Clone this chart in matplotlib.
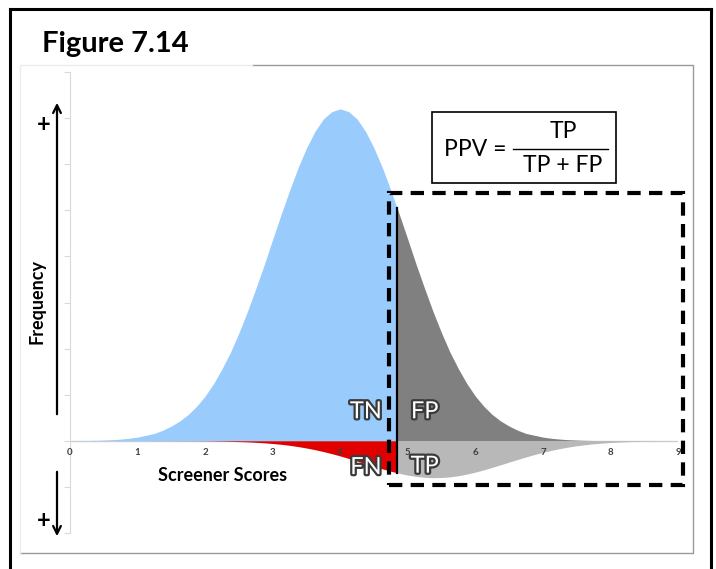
import numpy as np
import matplotlib.pyplot as plt
from matplotlib.patches import Rectangle, FancyArrowPatch
from matplotlib.lines import Line2D
import matplotlib.patheffects as pe

plt.rcParams['font.family'] = ['Lato', 'DejaVu Sans']

# ======================================================
# Data
# ======================================================

# screener scores sampled every 1/8 point, 0 .. 9
scores = np.linspace(0, 9, 73)

# people without the condition (drawn above the axis)
negatives = [
    0.002, 0.004, 0.006, 0.010, 0.016, 0.024, 0.037, 0.055,
    0.08, 0.12, 0.16, 0.23, 0.32, 0.43, 0.57, 0.75,
    0.97, 1.24, 1.56, 1.92, 2.34, 2.80, 3.30, 3.82,
    4.37, 4.91, 5.43, 5.92, 6.35, 6.71, 6.98, 7.14,
    7.20,
    7.14, 6.98, 6.71, 6.35, 5.92, 5.43, 4.91, 4.37,
    3.82, 3.30, 2.80, 2.34, 1.92, 1.56, 1.24, 0.97,
    0.75, 0.57, 0.43, 0.32, 0.23, 0.16, 0.12, 0.08,
    0.055, 0.037, 0.024, 0.016, 0.010, 0.006, 0.004, 0.002,
    0.001, 0.0, 0.0, 0.0, 0.0, 0.0, 0.0, 0.0,
]

# people with the condition (drawn below the axis)
positives = [
    0.0, 0.0, 0.0, 0.0, 0.0, 0.0, 0.0, 0.0,
    0.0, 0.0, 0.001, 0.001, 0.001, 0.002, 0.002, 0.003,
    0.004, 0.006, 0.009, 0.013, 0.018, 0.024, 0.033, 0.044,
    0.059, 0.076, 0.098, 0.125, 0.156, 0.192, 0.233, 0.279,
    0.329, 0.383, 0.439, 0.497, 0.554, 0.609, 0.660, 0.706,
    0.744, 0.773, 0.792, 0.800, 0.796, 0.782, 0.757, 0.722,
    0.679, 0.630, 0.576, 0.520, 0.462, 0.405, 0.350, 0.298,
    0.251, 0.208, 0.169, 0.136, 0.108, 0.085, 0.065, 0.050,
    0.037, 0.028, 0.020, 0.014, 0.010, 0.007, 0.005, 0.003,
    0.002,
]

cutoff = 4.84

x_ticks = list(range(10))

# ======================================================
# Figure
# ======================================================

W, H = 716, 569
fig = plt.figure(figsize=(W/100, H/100), dpi=100)


def fx(px):
    return px/W


def fy(py):
    return 1 - py/H


ax = fig.add_axes([fx(70), fy(533), 608/W, 461/H])
ax.set_xlim(0, 9)
ax.set_ylim(-2, 8)
ax.set_axisbelow(False)

xs = np.asarray(scores)
up = np.array(negatives)
low = -np.array(positives)

left_clip = Rectangle((-1, -5), cutoff+1, 20, transform=ax.transData)
right_clip = Rectangle((cutoff, -5), 10, 20, transform=ax.transData)

ax.axhline(0, color='#d0d0d0', lw=1, zorder=0)

tn = ax.fill_between(xs, 0, up, color='#99cbfd', lw=0, zorder=1)
fp = ax.fill_between(xs, 0, up, color='#808080', lw=0, zorder=1)
fn = ax.fill_between(xs, 0, low, color='#e00000', lw=0, zorder=1)
tp = ax.fill_between(xs, 0, low, color='#b8b8b8', lw=0, zorder=1)
tn.set_clip_path(left_clip)
fn.set_clip_path(left_clip)
fp.set_clip_path(right_clip)
tp.set_clip_path(right_clip)

ax.plot([cutoff, cutoff],
        [np.interp(cutoff, xs, low), np.interp(cutoff, xs, up)],
        color='black', lw=1.6, zorder=3)

# dashed box around everyone who screened positive
ax.add_patch(Rectangle((cutoff-0.12, -0.95), 9.08-(cutoff-0.12), 6.32,
                       fill=False, ec='black', lw=3,
                       linestyle=(0, (3.2, 2)), clip_on=False, zorder=4))

# axes styling
for side in ['top', 'right', 'bottom']:
    ax.spines[side].set_visible(False)
ax.spines['left'].set_color('#d9d9d9')
ax.spines['bottom'].set_position(('data', 0))
ax.set_yticks(range(-2, 9))
ax.set_yticklabels([])
ax.tick_params(axis='y', direction='out', length=4, color='#d9d9d9')
ax.set_xticks(x_ticks)
ax.set_xticklabels([str(t) for t in x_ticks], fontsize=7,
                   fontweight='bold', color='#404040')
ax.tick_params(axis='x', length=0, pad=5)
ax.patch.set_alpha(0)

# cell labels
outline = [pe.withStroke(linewidth=3.2, foreground='#3a3a3a')]
for txt, x, y in [('TN', 4.38, 0.63), ('FP', 5.25, 0.63),
                  ('FN', 4.38, -0.58), ('TP', 5.25, -0.55)]:
    ax.text(x, y, txt, fontsize=17, color='white', ha='center',
            va='center', path_effects=outline, zorder=5)

ax.text(2.26, -0.76, 'Screener Scores', fontsize=13,
        fontweight='bold', ha='center', va='center')

# ======================================================
# Frames, arrows, text around the plot
# ======================================================

fig.add_artist(Line2D([fx(10), fx(711)], [fy(9), fy(9)],
                      color='black', lw=2.2))
fig.add_artist(Line2D([fx(10), fx(10)], [fy(9), fy(580)],
                      color='black', lw=2.2))
fig.add_artist(Line2D([fx(711), fx(711)], [fy(9), fy(580)],
                      color='black', lw=2.2))

fig.add_artist(Line2D([fx(252), fx(693), fx(693), fx(20)],
                      [fy(65), fy(65), fy(553), fy(553)],
                      color='#9a9a9a', lw=1))
fig.add_artist(Line2D([fx(20), fx(20), fx(252)],
                      [fy(553), fy(65), fy(65)],
                      color='#ececec', lw=1))

fig.text(fx(42), fy(44), 'Figure 7.14', fontsize=21, fontweight='bold',
         ha='left', va='center')

fig.add_artist(FancyArrowPatch((fx(57), fy(417)), (fx(57), fy(100)),
                               transform=fig.transFigure, arrowstyle='->',
                               mutation_scale=14, lw=1.6, color='black'))
fig.add_artist(FancyArrowPatch((fx(57), fy(469)), (fx(57), fy(539)),
                               transform=fig.transFigure, arrowstyle='->',
                               mutation_scale=14, lw=1.6, color='black'))
fig.text(fx(44), fy(125), '+', fontsize=17, fontweight='bold',
         ha='center', va='center')
fig.text(fx(44), fy(521), '+', fontsize=17, fontweight='bold',
         ha='center', va='center')
fig.text(fx(37), fy(302), 'Frequency', fontsize=13, fontweight='bold',
         rotation=90, ha='center', va='center')

# PPV formula box
fig.add_artist(Rectangle((fx(432), fy(183)), fx(616-432), 71/H,
                         transform=fig.transFigure, fill=False,
                         ec='black', lw=1.2))
fig.text(fx(444), fy(149), 'PPV =', fontsize=16.5, ha='left', va='center')
fig.text(fx(563), fy(131), 'TP', fontsize=16.5, ha='center', va='center')
fig.text(fx(563), fy(166), 'TP + FP', fontsize=16.5, ha='center',
         va='center')
fig.add_artist(Line2D([fx(513), fx(608)], [fy(149), fy(149)],
                      color='black', lw=1))

fig.savefig('out.png', dpi=100)
